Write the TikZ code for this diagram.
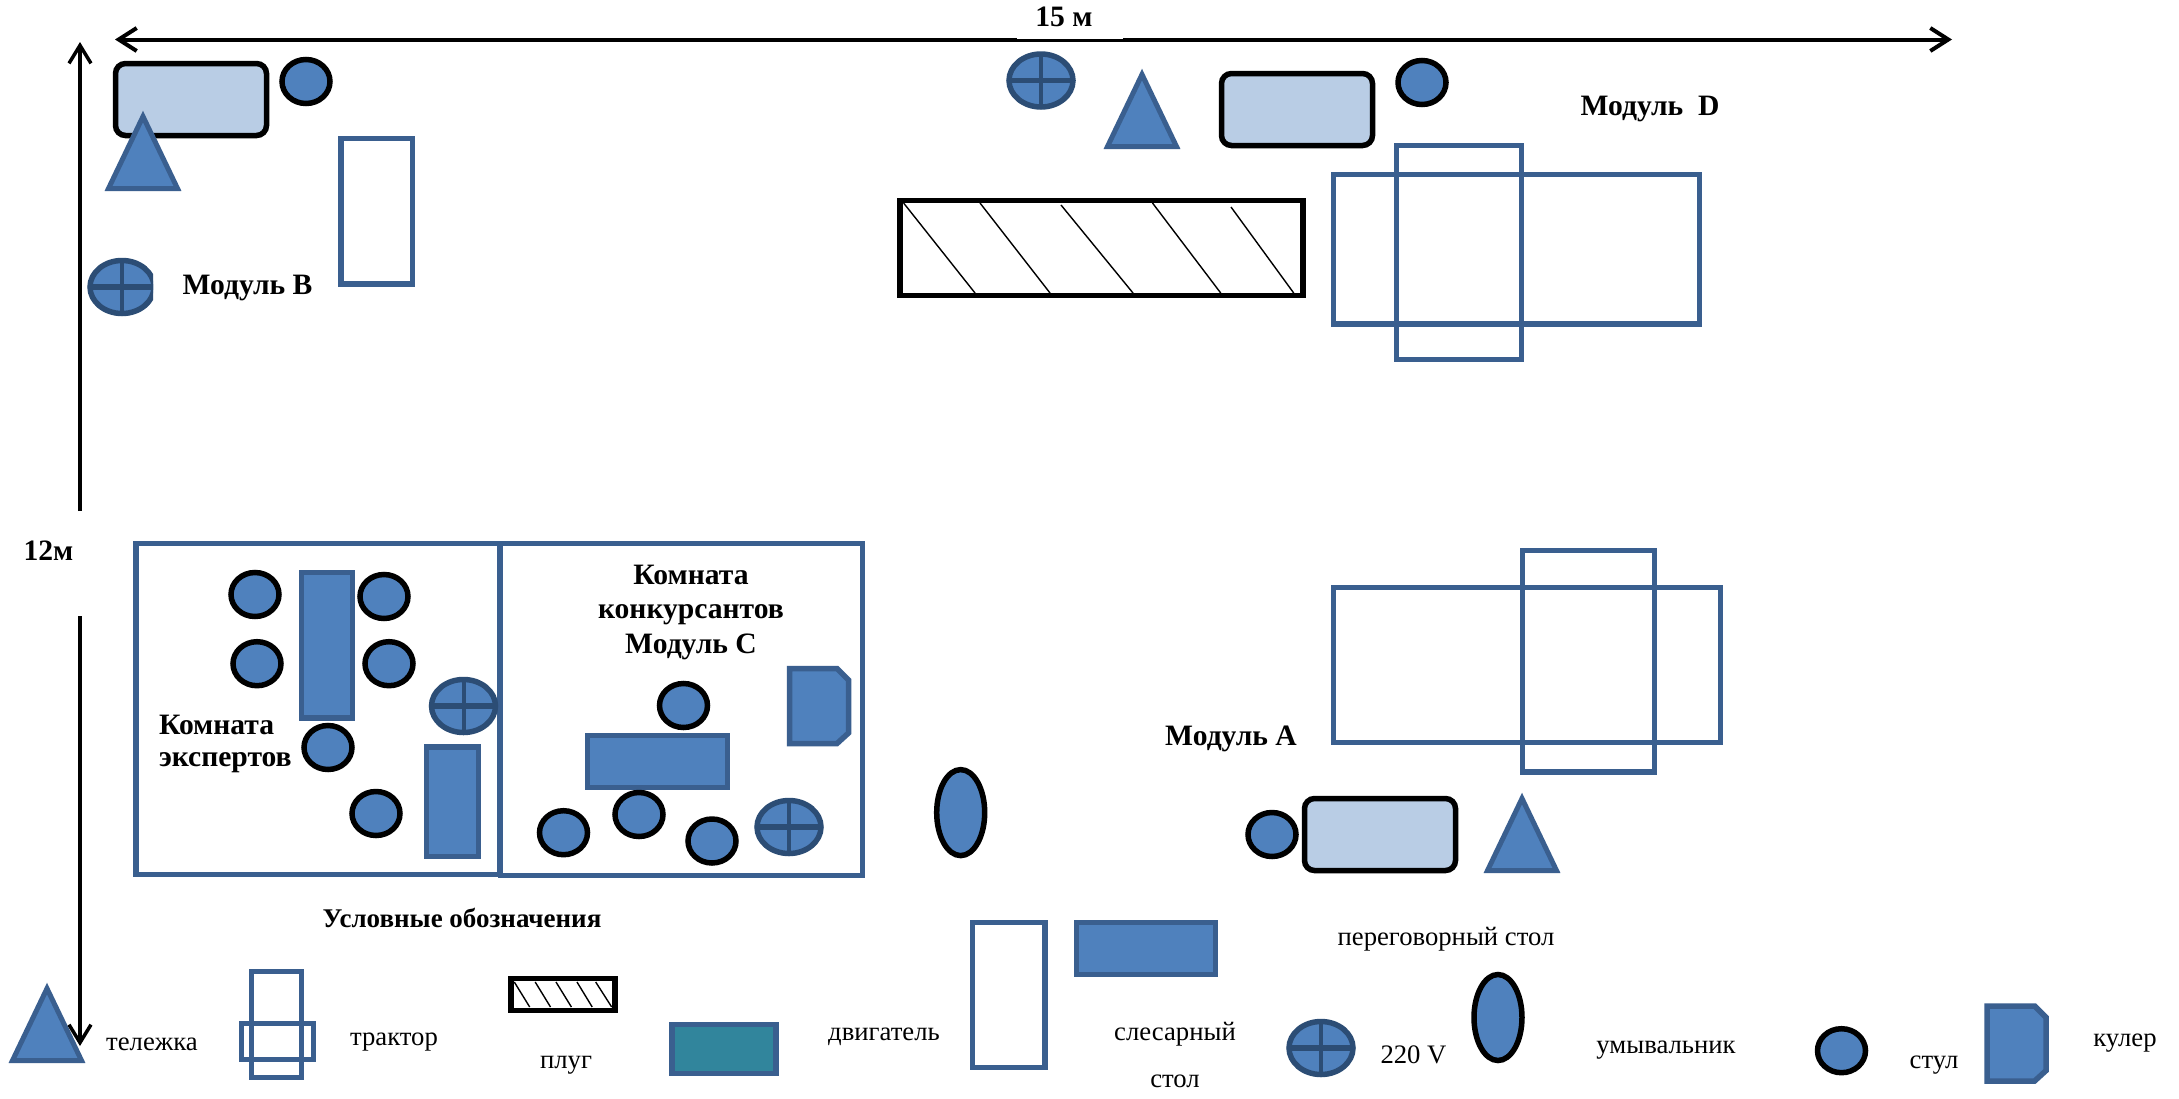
\documentclass[tikz,border=0pt]{standalone}
\usepackage{fontspec}
\setmainfont{Liberation Serif}
\usetikzlibrary{arrows.meta}
\definecolor{fillblue}{HTML}{4F81BD}
\definecolor{edgeblue}{HTML}{3A5F8F}
\definecolor{darkedge}{HTML}{2C4D75}
\definecolor{cartfill}{HTML}{B9CDE5}
\definecolor{engfill}{HTML}{31859C}
\tikzset{
  outl/.style={draw=edgeblue,line width=5.5pt,miter limit=10},
  tablest/.style={outl,fill=fillblue},
  enginest/.style={outl,fill=engfill},
  tri/.style={draw=edgeblue,fill=fillblue,line width=5pt,miter limit=10},
  chairst/.style={draw=black,fill=fillblue,line width=5.5pt},
  sockst/.style={draw=darkedge,fill=fillblue,line width=5.5pt},
  cartst/.style={draw=black,fill=cartfill,line width=5.5pt,rounded corners=10pt},
  ploughst/.style={draw=black,line width=5.5pt},
  hatchst/.style={draw=black,line width=1.4pt},
  dimh/.style={draw=black,line width=4pt,-{Straight Barb[length=18pt,width=23pt,line width=4pt]}},
  dimv/.style={draw=black,line width=3.5pt,-{Straight Barb[length=18pt,width=22pt,line width=3.5pt]}},
  boldlbl/.style={font=\fontsize{29.6}{31}\selectfont\bfseries,inner sep=0pt,outer sep=0pt},
  plainlbl/.style={font=\fontsize{26.7}{27}\selectfont,inner sep=0pt,outer sep=0pt},
}
\def\chairat(#1,#2){\draw[chairst] (#1,#2) ellipse [x radius=24pt,y radius=22pt];}
\def\sinkat(#1,#2){\draw[chairst] (#1,#2) ellipse [x radius=24pt,y radius=43pt];}
\def\sockat(#1,#2){\draw[sockst] (#1,#2) ellipse [x radius=32pt,y radius=26.5pt];
  \draw[darkedge,line width=5.5pt] ([xshift=-32pt]#1,#2) -- ([xshift=32pt]#1,#2);
  \draw[darkedge,line width=4pt] ([yshift=26.5pt]#1,#2) -- ([yshift=-26.5pt]#1,#2);}
\def\triat(#1,#2){\draw[tri,shift={(#1,#2)}] (0,-74.5) -- (34.5,-2.5) -- (-34.5,-2.5) -- cycle;}
\def\cartat(#1,#2){\draw[cartst,shift={(#1,#2)}] (2.5,2.5) rectangle (153.5,74.5);}
\def\kulerat(#1,#2){\draw[tablest,shift={(#1,#2)}] (2.5,2.5) -- (50,2.5) -- (61.5,14) -- (61.5,67) -- (50,77.5) -- (2.5,77.5) -- cycle;}
\begin{document}
\begin{tikzpicture}[x=1pt,y=-1pt]
\useasboundingbox (0,0) rectangle (2179,1098);
\fill[white] (0,0) rectangle (2179,1098);

% module B
\cartat(113,61)
\chairat(306,81.5)
\triat(143,191)
\draw[outl] (341,138.5) rectangle (412.5,284);
\begin{scope}
  \clip (80,250) rectangle (153,320);
  \sockat(122,287)
\end{scope}

% module D
\sockat(1041,80.5)
\triat(1142,149)
\cartat(1219,71)
\chairat(1422,82.5)
\draw[ploughst] (900,200.5) rectangle (1303,295.5);
\draw[hatchst] (903.6,203) -- (975,293);
\draw[hatchst] (980,203) -- (1050,293);
\draw[hatchst] (1061,205) -- (1133,293);
\draw[hatchst] (1152.5,203) -- (1220.7,293);
\draw[hatchst] (1231,207) -- (1293.7,293);
\draw[outl] (1333.5,174.5) rectangle (1699.5,324);
\draw[outl] (1396.5,145.5) rectangle (1521.5,359.5);

% rooms
\draw[outl] (136,543.5) rectangle (499.5,874.5);
\draw[outl] (500.5,543.5) rectangle (862.5,875.5);
\draw[tablest] (301.5,572.5) rectangle (352.5,718);
\draw[tablest] (426.5,747) rectangle (478.5,856.5);
\draw[tablest] (587.5,735.5) rectangle (727.5,787.5);
\chairat(255,594.5)
\chairat(384,596.5)
\chairat(257,663.7)
\chairat(389,663.7)
\chairat(328,747.5)
\chairat(376,813.5)
\chairat(683.5,705.5)
\chairat(563.5,832.7)
\chairat(639,814.5)
\chairat(712,841)
\sockat(463.5,706)
\sockat(789,827)
\kulerat(787,666)
\sinkat(960.7,812.6)

% module A
\draw[outl] (1333.5,587.5) rectangle (1720.5,742.5);
\draw[outl] (1522.5,550.5) rectangle (1654.5,772);
\chairat(1272,834.5)
\cartat(1302,796)
\triat(1522,873)

% legend shapes
\triat(47,1063)
\draw[outl] (251.5,971.5) rectangle (301.5,1077.5);
\draw[outl] (241.5,1023.5) rectangle (313.5,1059.5);
\draw[ploughst] (511,978.5) rectangle (615,1010.5);
\draw[hatchst] (514.3,982) -- (529.7,1007);
\draw[hatchst] (535.2,982) -- (550.5,1007);
\draw[hatchst] (556,982) -- (571.4,1007);
\draw[hatchst] (577,982) -- (592.2,1007);
\draw[hatchst] (595.7,982) -- (611.7,1007);
\draw[enginest] (672,1024.5) rectangle (776,1073.5);
\draw[outl] (972.5,922.5) rectangle (1045,1067.5);
\draw[tablest] (1076.5,922.5) rectangle (1215.5,974.5);
\sockat(1321,1048)
\sinkat(1498,1017.5)
\chairat(1841.5,1050.7)
\kulerat(1984.6,1003.5)

% dimension arrows
\coordinate (hl) at (115,39.5);
\coordinate (hr) at (1952,39.5);
\coordinate (hm) at (1070,39.5);
\coordinate (vt) at (80,42);
\coordinate (vtb) at (80,511);
\coordinate (vb) at (80,616);
\coordinate (vbe) at (80,1046);
\draw[dimh] (hm) -- (hl);
\draw[dimh] (hm) -- (hr);
\fill[white] (1017,0) rectangle (1123,38.8);
\draw[dimv] (vtb) -- (vt);
\draw[dimv] (vb) -- (vbe);

% labels
\node[boldlbl] (w15) at (1064,17) {15 м};
\node[boldlbl] (h12) at (48.5,551) {12м};
\node[boldlbl] (mb) at (247.5,288) {Модуль В};
\node[boldlbl] (md) at (1658,105) [xshift=-8pt,yshift=-4pt] {Модуль\ \ D};
\node[boldlbl] (ma) at (1236,739) [xshift=-5pt] {Модуль А};
\node[boldlbl] (c1) at (691,575) {Комната};
\node[boldlbl] (c2) at (691,615) {конкурсантов};
\node[boldlbl] (c3) at (691,647) {Модуль С};
\node[boldlbl,anchor=west] (e1) at (159,725) {Комната};
\node[boldlbl,anchor=west] (e2) at (159,763) {экспертов};
\node[boldlbl,font=\fontsize{27}{28}\selectfont\bfseries] (leg) at (462,918) {Условные обозначения};
\node[plainlbl] (l1) at (152,1044) {тележка};
\node[plainlbl] (l2) at (394,1042) {трактор};
\node[plainlbl] (l3) at (566,1065) {плуг};
\node[plainlbl] (l4) at (884,1037) {двигатель};
\node[plainlbl] (l5) at (1446,939) {переговорный стол};
\node[plainlbl] (l6) at (1175,1034) {слесарный};
\node[plainlbl] (l7) at (1175,1081) {стол};
\node[plainlbl] (l8) at (1413.5,1055) {220 V};
\node[plainlbl] (l9) at (1666,1050) {умывальник};
\node[plainlbl] (l10) at (1934,1065) {стул};
\node[plainlbl] (l11) at (2125,1043) {кулер};
\end{tikzpicture}
\end{document}
